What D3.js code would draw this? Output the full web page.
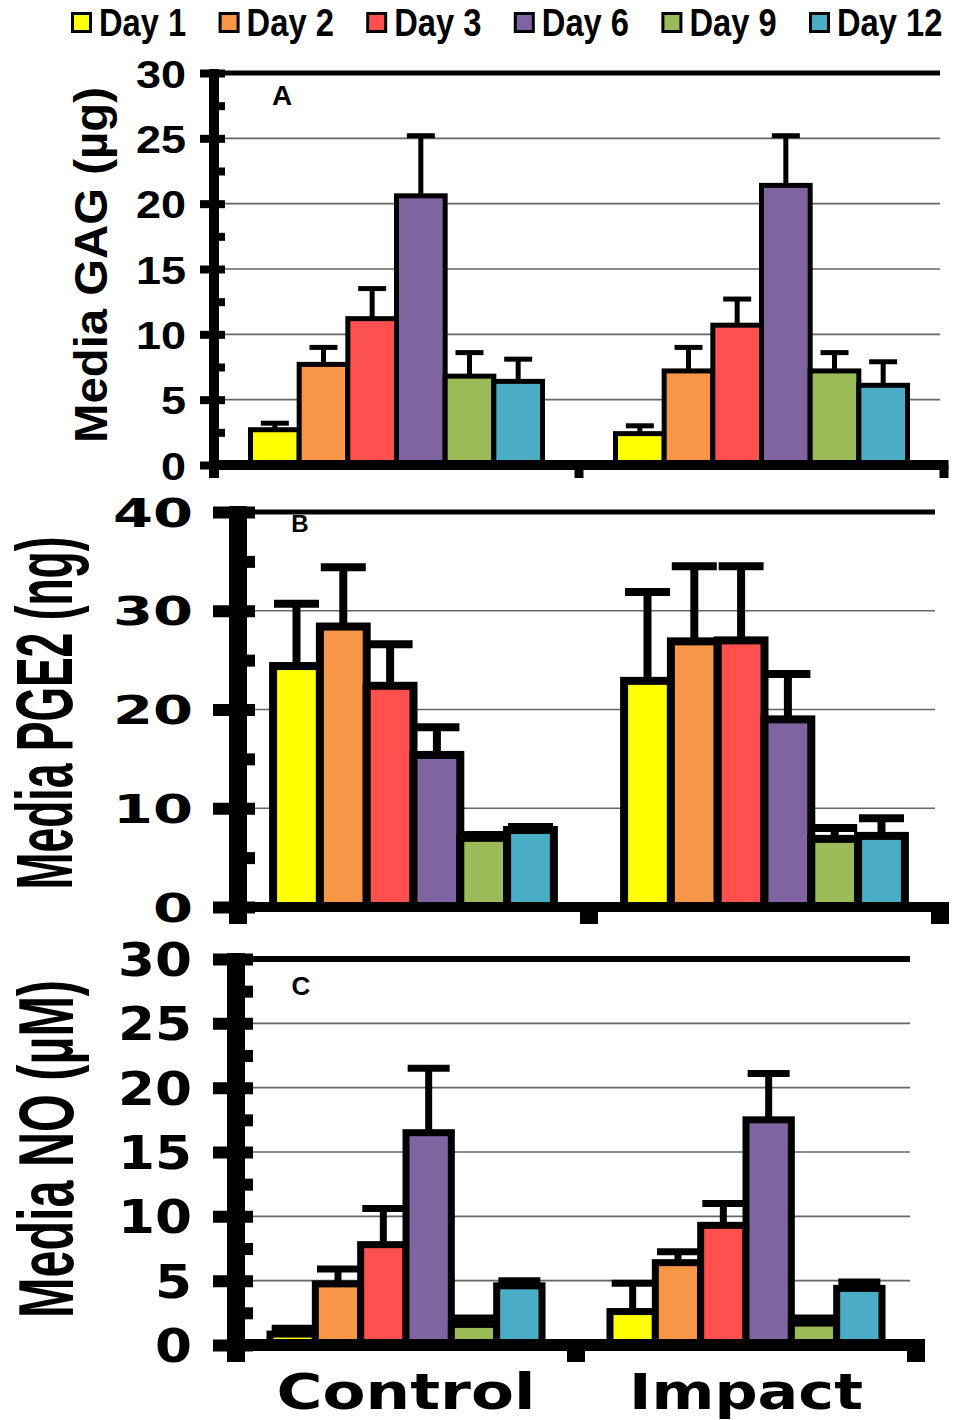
<!DOCTYPE html>
<html>
<head>
<meta charset="utf-8">
<script src="https://cdn.jsdelivr.net/npm/d3@7"></script>
<style>
  body { margin: 0; background: #fff; }
  text { font-family: "Liberation Sans", Arial, sans-serif; font-weight: bold; fill: #000; }
</style>
</head>
<body>
<svg id="chart" width="959" height="1420"></svg>
<script>
// ---- data ----
const groups = ["Control", "Impact"];
const days = ["Day 1", "Day 2", "Day 3", "Day 6", "Day 9", "Day 12"];
const dayColors = ["#FFFF00", "#F79646", "#FF5050", "#8064A2", "#9BBB59", "#4BACC6"];

// Media GAG (µg)
const gagControl    = [2.7, 7.7, 11.2, 20.6, 6.8, 6.4];
const gagControlErr = [0.5, 1.3, 2.3, 4.6, 1.8, 1.7];
const gagImpact     = [2.4, 7.2, 10.7, 21.4, 7.2, 6.1];
const gagImpactErr  = [0.6, 1.8, 2.0, 3.8, 1.4, 1.8];

// Media PGE2 (ng)
const pgeControl    = [24.4, 28.4, 22.4, 15.4, 7.0, 7.8];
const pgeControlErr = [6.3, 6.0, 4.2, 2.8, 0.3, 0.3];
const pgeImpact     = [22.9, 26.9, 27.0, 19.0, 6.9, 7.2];
const pgeImpactErr  = [9.0, 7.6, 7.5, 4.6, 1.1, 1.8];

// Media NO (µM)
const noControl     = [0.85, 4.75, 7.8, 16.5, 1.6, 4.6];
const noControlErr  = [0.45, 1.15, 2.8, 5.0, 0.5, 0.4];
const noImpact      = [2.6, 6.4, 9.3, 17.5, 1.7, 4.4];
const noImpactErr   = [2.2, 0.85, 1.7, 3.6, 0.4, 0.5];

// axis ticks
const gagTicks = [0, 5, 10, 15, 20, 25, 30];
const pgeTicks = [0, 10, 20, 30, 40];
const noTicks  = [0, 5, 10, 15, 20, 25, 30];

// ---- panel layout ----
const panels = [
  {
    letter: "A", title: "Media GAG (\u00B5g)",
    values: [gagControl, gagImpact], errors: [gagControlErr, gagImpactErr],
    ticks: gagTicks, minorStep: 2.5,
    L: { x0: 214, x1: 944, yZero: 465, yMax: 73, axisW: 10, majorL: 14, majorR: 11, tickW: 8,
         barSW: 5, errSW: 5, capW: 28, topSW: 5, baseSW: 10, gridEnd: 940, sepW: 9, tickDown: 478,
         labelRight: 186, labelFont: 39, labelFamily: "Liberation Sans", digitW: 25,
         titleX: 107, titleY: 265, titleFont: 47, titleLen: 356,
         letterX: 282, letterY: 105, letterFont: 28 }
  },
  {
    letter: "B", title: "Media PGE2 (ng)",
    values: [pgeControl, pgeImpact], errors: [pgeControlErr, pgeImpactErr],
    ticks: pgeTicks, minorStep: 5,
    L: { x0: 238, x1: 940, yZero: 907, yMax: 512, axisW: 18, majorL: 25, majorR: 17, tickW: 12,
         barSW: 8, errSW: 8, capW: 45, topSW: 5, baseSW: 10, gridEnd: 935, sepW: 18, tickDown: 924,
         labelRight: 193, labelFont: 39, labelFamily: "DejaVu Sans", digitW: 40,
         titleX: 72, titleY: 713, titleFont: 80, titleLen: 353,
         letterX: 300, letterY: 532, letterFont: 24 }
  },
  {
    letter: "C", title: "Media NO (\u00B5M)",
    values: [noControl, noImpact], errors: [noControlErr, noImpactErr],
    ticks: noTicks, minorStep: 2.5,
    L: { x0: 236, x1: 916, yZero: 1345, yMax: 959, axisW: 18, majorL: 23, majorR: 17, tickW: 12,
         barSW: 7, errSW: 7, capW: 42, topSW: 6, baseSW: 12, gridEnd: 910, sepW: 18, tickDown: 1362,
         labelRight: 192, labelFont: 46, labelFamily: "DejaVu Sans", digitW: 37,
         titleX: 73, titleY: 1149, titleFont: 77, titleLen: 338,
         letterX: 301, letterY: 995, letterFont: 26 }
  }
];

const svg = d3.select("#chart");
let lastX = null;

panels.forEach(p => {
  const L = p.L;
  const maxV = p.ticks[p.ticks.length - 1];
  const x = d3.scaleBand().domain(groups).range([L.x0, L.x1]).paddingInner(0.2).paddingOuter(0.1);
  const xd = d3.scaleBand().domain(days).range([0, x.bandwidth()]);
  const y = d3.scaleLinear().domain([0, maxV]).range([L.yZero, L.yMax]);
  lastX = x;

  const g = svg.append("g");

  // horizontal gridlines
  g.selectAll("line.grid")
    .data(p.ticks.slice(1, -1))
    .join("line")
    .attr("class", "grid")
    .attr("x1", L.x0).attr("x2", L.gridEnd)
    .attr("y1", d => y(d)).attr("y2", d => y(d))
    .attr("stroke", "#666").attr("stroke-width", 1.6);

  // heavy line at the top of the value range
  g.append("line")
    .attr("x1", L.x0).attr("x2", L.gridEnd)
    .attr("y1", y(maxV)).attr("y2", y(maxV))
    .attr("stroke", "#000").attr("stroke-width", L.topSW);

  const rows = groups.flatMap((grp, gi) => days.map((day, di) => ({
    grp, day, color: dayColors[di], v: p.values[gi][di], e: p.errors[gi][di]
  })));

  // bars
  g.selectAll("rect.bar")
    .data(rows)
    .join("rect")
    .attr("class", "bar")
    .attr("x", d => x(d.grp) + xd(d.day))
    .attr("width", xd.bandwidth())
    .attr("y", d => y(d.v))
    .attr("height", d => y(0) - y(d.v))
    .attr("fill", d => d.color)
    .attr("stroke", "#000")
    .attr("stroke-width", L.barSW);

  // upper error bars
  const cx = d => x(d.grp) + xd(d.day) + xd.bandwidth() / 2;
  g.selectAll("line.stem")
    .data(rows)
    .join("line")
    .attr("class", "stem")
    .attr("x1", cx).attr("x2", cx)
    .attr("y1", d => y(d.v)).attr("y2", d => y(d.v + d.e))
    .attr("stroke", "#000").attr("stroke-width", L.errSW);
  g.selectAll("line.cap")
    .data(rows)
    .join("line")
    .attr("class", "cap")
    .attr("x1", d => cx(d) - L.capW / 2).attr("x2", d => cx(d) + L.capW / 2)
    .attr("y1", d => y(d.v + d.e)).attr("y2", d => y(d.v + d.e))
    .attr("stroke", "#000").attr("stroke-width", L.errSW);

  // baseline with group separator ticks
  g.append("line")
    .attr("x1", L.x0).attr("x2", L.x1 + L.sepW / 2)
    .attr("y1", y(0)).attr("y2", y(0))
    .attr("stroke", "#000").attr("stroke-width", L.baseSW);
  const step = x.step();
  g.selectAll("line.sep")
    .data([1, 2])
    .join("line")
    .attr("class", "sep")
    .attr("x1", i => L.x0 + step * i).attr("x2", i => L.x0 + step * i)
    .attr("y1", y(0)).attr("y2", L.tickDown)
    .attr("stroke", "#000").attr("stroke-width", L.sepW);

  // vertical axis line
  g.append("line")
    .attr("x1", L.x0).attr("x2", L.x0)
    .attr("y1", y(maxV) - L.tickW / 2).attr("y2", L.tickDown)
    .attr("stroke", "#000").attr("stroke-width", L.axisW);

  // minor ticks (right side only)
  const minorVals = d3.range(0, maxV + 1e-9, p.minorStep).filter(v => !p.ticks.includes(v));
  const minorAxis = d3.axisRight(y).tickValues(minorVals).tickSize(L.majorR).tickFormat("");
  const gm = g.append("g").attr("transform", `translate(${L.x0},0)`).call(minorAxis);
  gm.select(".domain").remove();
  gm.selectAll(".tick line").attr("stroke", "#000").attr("stroke-width", L.tickW);

  // major ticks crossing the axis, with labels
  const majorAxis = d3.axisLeft(y).tickValues(p.ticks).tickSizeInner(L.majorL).tickSizeOuter(0);
  const ga = g.append("g").attr("transform", `translate(${L.x0},0)`).call(majorAxis);
  ga.select(".domain").remove();
  ga.selectAll(".tick line").attr("x1", L.majorR).attr("stroke", "#000").attr("stroke-width", L.tickW);
  ga.selectAll(".tick text")
    .attr("x", L.labelRight - L.x0)
    .attr("dy", "0.36em")
    .attr("text-anchor", "end")
    .style("font-family", `"${L.labelFamily}", Arial, sans-serif`)
    .style("font-weight", "bold")
    .style("font-size", L.labelFont + "px")
    .attr("fill", "#000")
    .attr("textLength", d => String(d).length * L.digitW)
    .attr("lengthAdjust", "spacingAndGlyphs");

  // panel letter
  g.append("text")
    .attr("x", L.letterX).attr("y", L.letterY)
    .attr("text-anchor", "middle")
    .style("font-size", L.letterFont + "px")
    .text(p.letter);

  // vertical axis title
  g.append("text")
    .attr("transform", `translate(${L.titleX},${L.titleY}) rotate(-90)`)
    .attr("text-anchor", "middle")
    .style("font-size", L.titleFont + "px")
    .attr("textLength", L.titleLen)
    .attr("lengthAdjust", "spacingAndGlyphs")
    .text(p.title);
});

// group labels under the bottom panel
svg.selectAll("text.group")
  .data(groups)
  .join("text")
  .attr("class", "group")
  .attr("x", d => lastX(d) + lastX.bandwidth() / 2)
  .attr("y", 1409)
  .attr("text-anchor", "middle")
  .style("font-family", '"DejaVu Sans", Arial, sans-serif')
  .style("font-size", "49px")
  .attr("textLength", (d, i) => [259, 234][i])
  .attr("lengthAdjust", "spacingAndGlyphs")
  .text(d => d);

// legend
const legend = svg.append("g");
const item = legend.selectAll("g")
  .data(days)
  .join("g")
  .attr("transform", (d, i) => `translate(${71 + i * 147.6},0)`);
item.append("rect")
  .attr("x", 1.5).attr("y", 13.5)
  .attr("width", 18).attr("height", 18)
  .attr("fill", (d, i) => dayColors[i])
  .attr("stroke", "#000").attr("stroke-width", 3);
item.append("text")
  .attr("x", 28).attr("y", 36)
  .style("font-size", "38px")
  .text(d => d)
  .each(function () {
    const len = this.getComputedTextLength();
    d3.select(this).attr("textLength", len * 0.86).attr("lengthAdjust", "spacingAndGlyphs");
  });
</script>
</body>
</html>
